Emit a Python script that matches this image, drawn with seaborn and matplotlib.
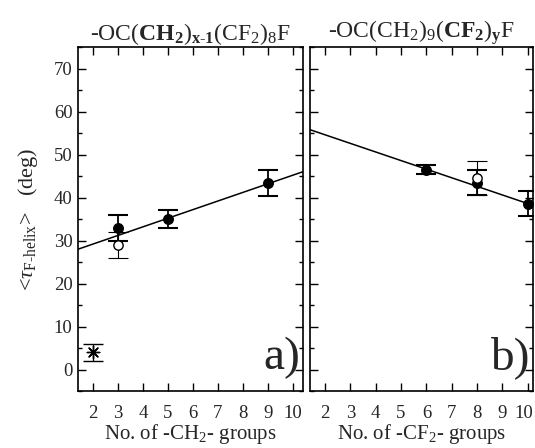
import matplotlib
matplotlib.use("Agg")
import matplotlib.pyplot as plt
import matplotlib.transforms as mtransforms
import seaborn as sns
import pandas as pd
from matplotlib.ticker import MultipleLocator

# ---- data ----
# panel a) : No. of -CH2- groups
a_fill_x = [3, 5, 9]
a_fill_y = [33.0, 35.1, 43.3]
a_fill_err = [3.0, 2.1, 3.0]
a_open_x = [3]
a_open_y = [29.0]
a_open_err = [3.0]
a_star_x = [2]
a_star_y = [4.0]
a_star_err = [2.0]
a_fit_x = [1.4, 10.4]
a_fit_y = [28.0, 46.0]

# panel b) : No. of -CF2- groups
b_fill_x = [6, 8, 10]
b_fill_y = [46.5, 43.5, 38.6]
b_fill_err = [1.0, 3.0, 3.0]
b_open_x = [8]
b_open_y = [44.5]
b_open_err = [4.0]
b_fit_x = [1.4, 10.2]
b_fit_y = [55.8, 38.2]

x_ticks = [2, 3, 4, 5, 6, 7, 8, 9, 10]
y_ticks = [0, 10, 20, 30, 40, 50, 60, 70]

sns.set_theme(style="ticks")
plt.rcParams['font.family'] = ['Liberation Serif', 'DejaVu Serif']
plt.rcParams['mathtext.fontset'] = 'custom'
plt.rcParams['mathtext.rm'] = 'Liberation Serif'
plt.rcParams['mathtext.it'] = 'Liberation Serif:italic'
plt.rcParams['mathtext.bf'] = 'Liberation Serif:bold'

fig = plt.figure(figsize=(5.35, 4.48), dpi=100)
axa = fig.add_axes([0.146, 0.127, 0.420, 0.768])
axb = fig.add_axes([0.579, 0.127, 0.417, 0.768])


def panel(ax, fit_x, fit_y, fill_x, fill_y, fill_err, open_x, open_y, open_err, xlim):
    sns.lineplot(x=fit_x, y=fit_y, ax=ax, color='black', lw=1.1, zorder=2)
    ax.errorbar(open_x, open_y, yerr=open_err, fmt='none', ecolor='black',
                elinewidth=0.8, capsize=7, capthick=0.8, zorder=3)
    ax.errorbar(fill_x, fill_y, yerr=fill_err, fmt='none', ecolor='black',
                elinewidth=1.3, capsize=7, capthick=1.5, zorder=3)
    sns.scatterplot(x=fill_x, y=fill_y, ax=ax, color='black', s=50,
                    edgecolor='black', linewidth=0.8, zorder=4)
    sns.scatterplot(x=open_x, y=open_y, ax=ax, color='white', s=45,
                    edgecolor='black', linewidth=1.0, zorder=5)
    ax.set_xlim(*xlim)
    ax.set_ylim(-5, 75)
    ax.set_xticks(x_ticks)
    ax.set_yticks(y_ticks)
    ax.yaxis.set_minor_locator(MultipleLocator(5))
    ax.tick_params(which='both', direction='in', top=True, right=True,
                   labelsize=13.5, width=1.0, color='black')
    ax.tick_params(axis='x', which='both', pad=10)
    ax.tick_params(axis='y', which='both', pad=4)
    ax.tick_params(which='major', length=6)
    ax.tick_params(which='minor', length=3)
    for s in ax.spines.values():
        s.set_linewidth(1.2)
        s.set_color('black')


panel(axa, a_fit_x, a_fit_y, a_fill_x, a_fill_y, a_fill_err,
      a_open_x, a_open_y, a_open_err, (1.4, 10.4))
axa.errorbar(a_star_x, a_star_y, yerr=a_star_err, fmt='none', ecolor='black',
             elinewidth=0.9, capsize=7, capthick=1.0, zorder=3)
sns.scatterplot(x=a_star_x, y=a_star_y, ax=axa, marker=(8, 2, 0), s=80,
                color='black', edgecolor='black', linewidth=1.0, zorder=4)

panel(axb, b_fit_x, b_fit_y, b_fill_x, b_fill_y, b_fill_err,
      b_open_x, b_open_y, b_open_err, (1.4, 10.2))
axb.tick_params(which='both', labelleft=False)

axa.set_xlabel(r'No. of -CH$_2$- groups', fontsize=15, labelpad=0)
axb.set_xlabel(r'No. of -CF$_2$- groups', fontsize=15, labelpad=0)
axa.set_ylabel(r'<$\tau_{\mathrm{F\text{-}helix}}$>   (deg)', fontsize=16, labelpad=10)

axa.set_title(r'-OC($\mathbf{CH}_{\mathbf{2}}$)$_{\mathbf{x\text{-}1}}$(CF$_2$)$_8$F',
              fontsize=17, pad=5)
axb.set_title(r'-OC(CH$_2$)$_9$($\mathbf{CF}_{\mathbf{2}}$)$_{\mathbf{y}}$F',
              fontsize=17, pad=5)

axa.text(0.99, 0.035, 'a)', transform=axa.transAxes, ha='right', va='bottom', fontsize=34)
axb.text(0.985, 0.035, 'b)', transform=axb.transAxes, ha='right', va='bottom', fontsize=34)

# keep the last tick label of panel b inside the figure
fig.canvas.draw()
last = axb.get_xticklabels()[-1]
last.set_transform(last.get_transform() +
                   mtransforms.ScaledTranslation(-4 / 100, 0, fig.dpi_scale_trans))

fig.savefig('out.png', dpi=100)
